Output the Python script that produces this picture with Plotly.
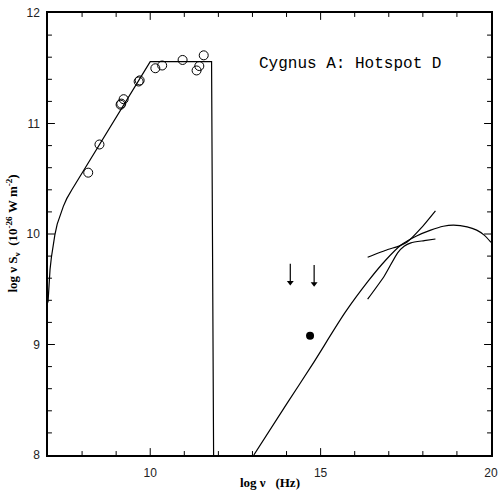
import plotly.graph_objects as go

# Radio data (open circles)
radio_x = [8.18, 8.51, 9.13, 9.15, 9.22, 9.66, 9.69, 10.15, 10.35, 10.95, 11.36, 11.44, 11.57]
radio_y = [10.555, 10.81, 11.17, 11.18, 11.22, 11.38, 11.39, 11.50, 11.525, 11.575, 11.48, 11.52, 11.617]

# Synchrotron model curve
sync_x = [7.0, 7.03, 7.06, 7.1, 7.15, 7.2, 7.27, 7.35, 7.45, 7.55, 7.7, 10.0, 11.80, 11.86]
sync_y = [9.38, 9.55, 9.68, 9.79, 9.90, 9.99, 10.09, 10.17, 10.25, 10.32, 10.40, 11.56, 11.56, 8.0]

# Inverse-Compton model curve
ic_x = [13.04, 14.0, 14.76, 15.72, 16.40, 16.9, 17.36, 17.8, 18.23, 18.6, 18.9, 19.3, 19.58, 19.8, 20.0]
ic_y = [8.0, 8.46, 8.82, 9.29, 9.575, 9.76, 9.90, 9.98, 10.035, 10.07, 10.08, 10.065, 10.035, 9.99, 9.925]

# X-ray bow tie
bowA_x = [16.38, 16.97, 17.30, 17.55, 17.94, 18.37]
bowA_y = [9.79, 9.86, 9.89, 9.93, 10.05, 10.21]
bowB_x = [16.38, 16.87, 17.26, 17.45, 17.65, 18.04, 18.37]
bowB_y = [9.41, 9.62, 9.83, 9.89, 9.92, 9.94, 9.955]

# Optical detection (filled circle)
opt_x = [14.69]
opt_y = [9.08]

# Upper limits (arrows)
lim_x = [14.11, 14.81]
lim_top = [9.73, 9.72]
lim_tip = [9.53, 9.52]

# Axis ticks
x_range = [7, 20]
y_range = [8, 12]
x_major = [10, 15]
x_minor = [8, 9, 11, 12, 13, 14, 16, 17, 18, 19]
y_major = [9, 10, 11]
y_minor = [round(8 + 0.2 * i, 1) for i in range(1, 20) if i % 5 != 0]

W, H = 504, 495
ML, MR, MT, MB = 48, 7, 6, 40
plot_w = W - ML - MR
plot_h = H - MT - MB

fig = go.Figure()
lw = 1.2
fig.add_trace(go.Scatter(x=sync_x, y=sync_y, mode="lines", line=dict(color="black", width=lw), showlegend=False))
fig.add_trace(go.Scatter(x=ic_x, y=ic_y, mode="lines", line=dict(color="black", width=lw, shape="spline", smoothing=0.8), showlegend=False))
fig.add_trace(go.Scatter(x=bowA_x, y=bowA_y, mode="lines", line=dict(color="black", width=lw, shape="spline", smoothing=0.6), showlegend=False))
fig.add_trace(go.Scatter(x=bowB_x, y=bowB_y, mode="lines", line=dict(color="black", width=lw, shape="spline", smoothing=0.6), showlegend=False))
fig.add_trace(go.Scatter(x=radio_x, y=radio_y, mode="markers",
                         marker=dict(symbol="circle-open", size=9, color="black", line=dict(width=1)),
                         showlegend=False))
fig.add_trace(go.Scatter(x=opt_x, y=opt_y, mode="markers",
                         marker=dict(symbol="circle", size=8, color="black"), showlegend=False))

# upper-limit arrows: shaft + head
for x, t, b in zip(lim_x, lim_top, lim_tip):
    fig.add_trace(go.Scatter(x=[x, x], y=[t, b + 0.03], mode="lines",
                             line=dict(color="black", width=lw), showlegend=False))
    fig.add_trace(go.Scatter(x=[x], y=[b + 0.03], mode="markers",
                             marker=dict(symbol="triangle-down", size=6, color="black"), showlegend=False))

# tick marks drawn inside on all four sides
tick_line = dict(color="black", width=1)
for vals, length in ((x_major, 7), (x_minor, 4)):
    f = length / plot_h
    for v in vals:
        fig.add_shape(type="line", xref="x", yref="paper", x0=v, x1=v, y0=0, y1=f, line=tick_line, layer="above")
        fig.add_shape(type="line", xref="x", yref="paper", x0=v, x1=v, y0=1, y1=1 - f, line=tick_line, layer="above")
for vals, length in ((y_major, 7), (y_minor, 4)):
    f = length / plot_w
    for v in vals:
        fig.add_shape(type="line", xref="paper", yref="y", x0=0, x1=f, y0=v, y1=v, line=tick_line, layer="above")
        fig.add_shape(type="line", xref="paper", yref="y", x0=1, x1=1 - f, y0=v, y1=v, line=tick_line, layer="above")

fig.add_annotation(x=15.85, y=11.537, xref="x", yref="y", text="Cygnus A: Hotspot D",
                   showarrow=False, font=dict(family="Liberation Mono", size=16, color="black"))

fig.add_annotation(x=0.5, y=-0.062, xref="paper", yref="paper", xanchor="center", yanchor="middle",
                   text="<b>log ν   (Hz)</b>", showarrow=False,
                   font=dict(family="Liberation Serif", size=13, color="black"))
fig.add_annotation(x=-0.080, y=0.5, xref="paper", yref="paper", xanchor="center", yanchor="middle",
                   textangle=-90,
                   text="<b>log ν S<sub>ν</sub>  (10<sup>-26</sup> W m<sup>-2</sup>)</b>", showarrow=False,
                   font=dict(family="Liberation Serif", size=13, color="black"))

fig.update_xaxes(range=x_range, tick0=0, dtick=5, ticks="",
                 showline=True, linecolor="black", linewidth=1.5, mirror=True,
                 showgrid=False, zeroline=False, ticklabelstandoff=6,
                 tickfont=dict(family="Liberation Sans", size=12, color="#222"))
fig.update_yaxes(range=y_range, dtick=1, ticks="",
                 showline=True, linecolor="black", linewidth=1.5, mirror=True,
                 showgrid=False, zeroline=False, ticklabelstandoff=4,
                 tickfont=dict(family="Liberation Sans", size=12, color="#222"))

fig.update_layout(width=W, height=H, margin=dict(l=ML, r=MR, t=MT, b=MB), plot_bgcolor="white")
fig.write_html("out.html", config={"displayModeBar": False},
               post_script="document.body.style.margin='0';document.body.style.overflow='hidden';")
